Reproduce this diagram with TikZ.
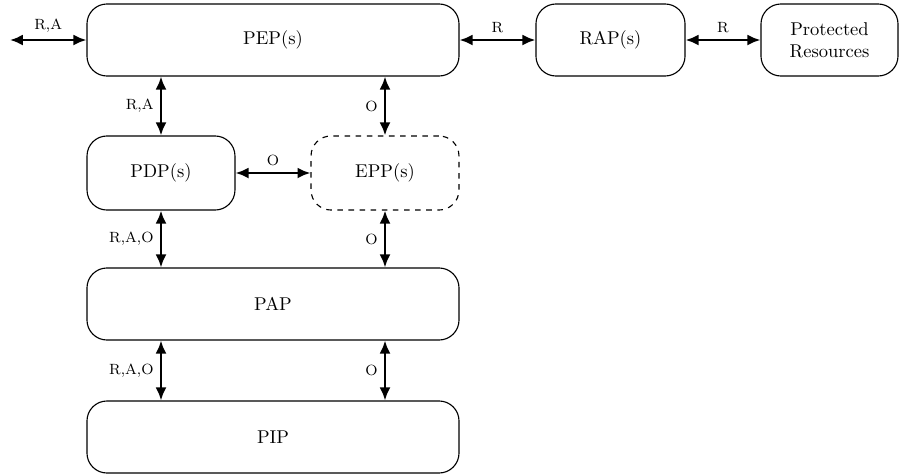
\documentclass[tikz,border=0pt]{standalone}
\usetikzlibrary{arrows.meta}
\begin{document}
\begin{tikzpicture}[x=0.54pt,y=-0.54pt,
  box/.style={draw, rounded corners=10.8pt, inner sep=0pt, minimum height=38.9pt, align=center, line width=0.6pt},
  wide/.style={box, minimum width=200.9pt},
  narrow/.style={box, minimum width=79.9pt, minimum height=40pt},
  link/.style={line width=1.35pt, {Latex[length=7pt,width=6pt]}-{Latex[length=7pt,width=6pt]}},
  lbl/.style={font=\footnotesize}]
\useasboundingbox (0,0) rectangle (901,475);
\node[wide] (pep) at (273,40) {PEP(s)};
\node[box, minimum width=80.5pt] (rap) at (610.5,40) {RAP(s)};
\node[box, minimum width=74pt] (prot) at (829.5,40) {Protected\\Resources};
\node[narrow] (pdp) at (161,173) {PDP(s)};
\node[narrow, dashed] (epp) at (385,173) {EPP(s)};
\node[wide] (pap) at (273,304) {PAP};
\node[wide] (pip) at (273,437) {PIP};
\coordinate (ext) at (10,40);
\draw[link] (ext) -- node[above,lbl] {R,A} (pep.west);
\draw[link] (pep.east) -- node[above,lbl] {R} (rap.west);
\draw[link] (rap.east) -- node[above,lbl] {R} (prot.west);
\draw[link] (pdp.north |- pep.south) -- node[left,lbl] {R,A} (pdp.north);
\draw[link] (epp.north |- pep.south) -- node[left,lbl] {O} (epp.north);
\draw[link] (pdp.east) -- node[above,lbl] {O} (epp.west);
\draw[link] (pdp.south) -- node[left,lbl] {R,A,O} (pdp.south |- pap.north);
\draw[link] (epp.south) -- node[left,lbl] {O} (epp.south |- pap.north);
\draw[link] (pdp.south |- pap.south) -- node[left,lbl] {R,A,O} (pdp.south |- pip.north);
\draw[link] (epp.south |- pap.south) -- node[left,lbl] {O} (epp.south |- pip.north);
\end{tikzpicture}
\end{document}
